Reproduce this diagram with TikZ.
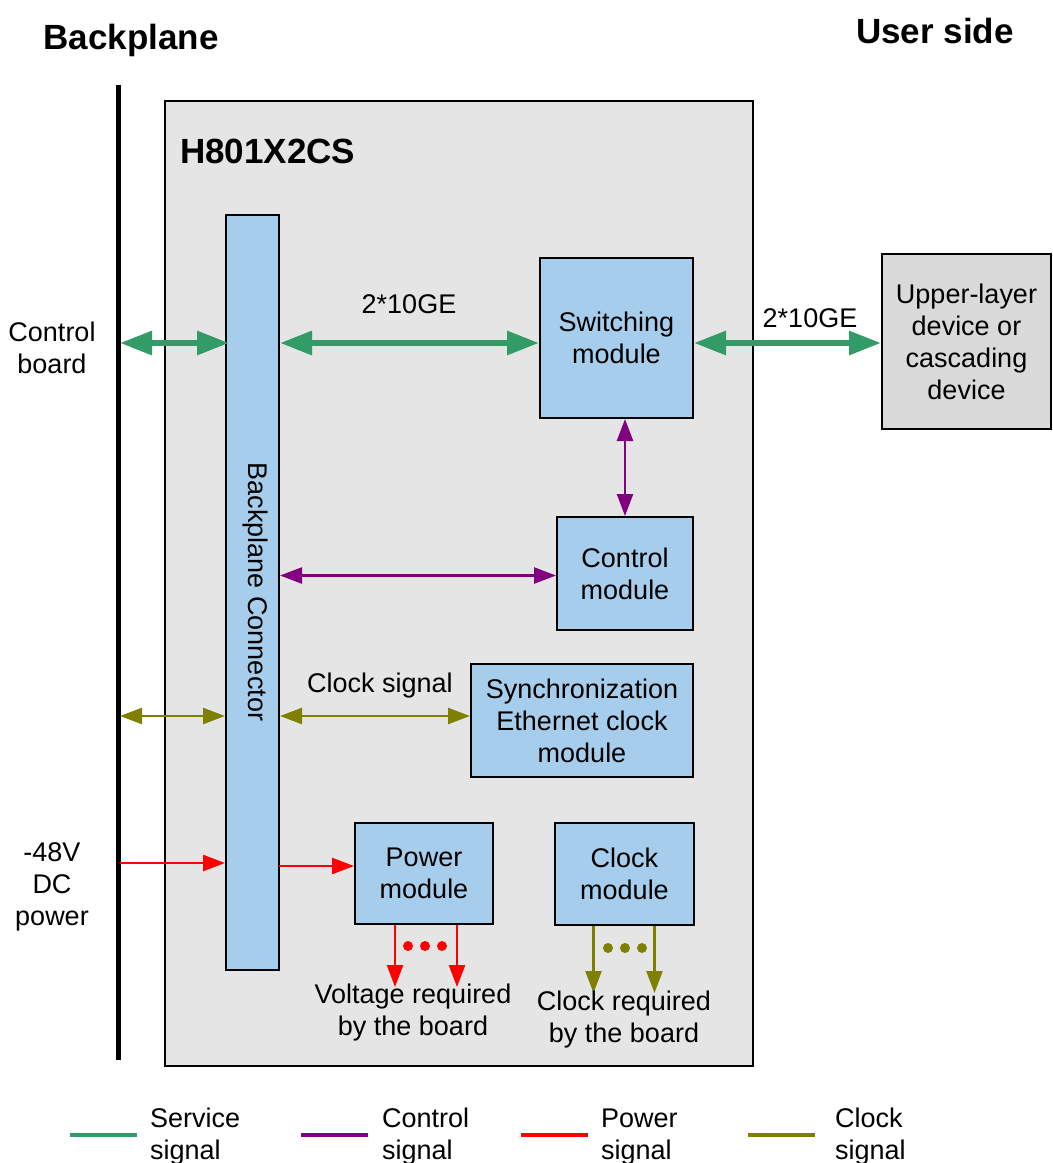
\documentclass[tikz,border=0pt]{standalone}
\usepackage{fontspec}
\setmainfont{Liberation Sans}
\usepackage{tikz}
\usetikzlibrary{arrows.meta}
\definecolor{servicegreen}{RGB}{51,155,104}
\definecolor{ctrlpurple}{RGB}{128,0,128}
\definecolor{pwrred}{RGB}{255,0,0}
\definecolor{clkolive}{RGB}{128,128,0}
\definecolor{modblue}{RGB}{166,206,236}
\definecolor{boardgray}{RGB}{229,229,229}
\definecolor{uppergray}{RGB}{218,218,218}
\tikzset{
  lbl/.style={font=\fontsize{27}{32}\selectfont, align=center, inner sep=0pt},
  title/.style={font=\fontsize{35}{42}\selectfont\bfseries, inner sep=0pt},
  module/.style={draw=black, line width=2pt, fill=modblue, lbl},
  bigtip/.style={>={Triangle[length=32pt,width=23pt]}},
  smalltip/.style={>={Triangle[length=22pt,width=16pt]}},
  service/.style={servicegreen, line width=6pt, bigtip},
  ctrlsig/.style={ctrlpurple, line width=2.5pt, smalltip},
  pwrsig/.style={pwrred, line width=2.5pt, smalltip},
  clksig/.style={clkolive, line width=2.5pt, smalltip},
}
\begin{document}
\begin{tikzpicture}[x=1pt,y=-1pt]
  \useasboundingbox (0,0) rectangle (1053,1163);

  % titles
  \node[title] (bptitle) at (131,40) {Backplane};
  \node[title] (usertitle) at (935,31) {User side};

  % backplane line
  \coordinate (bptop) at (118,85);
  \coordinate (bpbot) at (118,1060);
  \draw[line width=5pt] (bptop) -- (bpbot);

  % board and modules
  \node[draw=black, line width=1.5pt, fill=boardgray, minimum width=588pt, minimum height=965pt] (board) at (459,583.5) {};
  \node[title, anchor=west] (boardname) at (180,151) {H801X2CS};
  \node[module, minimum width=53pt, minimum height=755pt] (conn) at (252.5,592.5) {};
  \node[lbl, rotate=-90] (connname) at (255,592) {Backplane Connector};
  \node[module, minimum width=153pt, minimum height=160pt] (switch) at (616.5,338) {Switching\\module};
  \node[draw=black, line width=2pt, fill=uppergray, lbl, minimum width=169pt, minimum height=175pt] (upper) at (966.5,341.5) {Upper-layer\\device or\\cascading\\device};
  \node[module, minimum width=136pt, minimum height=113pt] (ctrl) at (625,573.5) {Control\\module};
  \node[module, minimum width=222pt, minimum height=113pt] (sync) at (582,720.5) {Synchronization\\Ethernet clock\\module};
  \node[module, minimum width=138pt, minimum height=101pt] (power) at (424,873.5) {Power\\module};
  \node[module, minimum width=139pt, minimum height=102pt] (clock) at (624.5,874) {Clock\\module};

  % side labels
  \node[lbl] (ctrlboard) at (52,348) {Control\\board};
  \node[lbl] (dcpower) at (52,887) {-48V\\DC\\power};

  % service signal
  \coordinate (svc) at (120,343);
  \draw[service, <->] (svc) -- ([xshift=4pt]svc -| conn.west);
  \draw[service, <->] (conn.east |- svc) -- (switch.west |- svc);
  \draw[service, <->] (switch.east |- svc) -- (upper.west |- svc);
  \node[lbl] (ge1) at (409,304) {2*10GE};
  \node[lbl] (ge2) at (810,318) {2*10GE};

  % control signal
  \draw[ctrlsig, <->] (ctrl.north |- switch.south) -- (ctrl.north);
  \draw[ctrlsig, <->] ([yshift=-2pt]ctrl.west -| conn.east) -- ([yshift=-2pt]ctrl.west);

  % clock signal
  \coordinate (clk) at (120,716);
  \draw[clksig, <->] (clk) -- (clk -| conn.west);
  \draw[clksig, <->] (conn.east |- clk) -- (sync.west |- clk);
  \node[lbl] (clklbl) at (380,686) {Clock signal};

  % power signal
  \coordinate (pwr) at (120,863);
  \coordinate (pwrin) at (279,866);
  \draw[pwrsig, ->] (pwr) -- (pwr -| conn.west);
  \draw[pwrsig, ->] (pwrin) -- (pwrin -| power.west);

  % outputs of power and clock modules
  \draw[pwrsig, ->] ([xshift=-29pt]power.south) -- ++(0,62);
  \draw[pwrsig, ->] ([xshift=33pt]power.south) -- ++(0,62);
  \foreach \dx in {-17,0,17} \fill[pwrred] (425+\dx,946) circle (5pt);
  \draw[clksig, ->] ([xshift=-31pt]clock.south) -- ++(0,67);
  \draw[clksig, ->] ([xshift=30pt]clock.south) -- ++(0,67);
  \foreach \dx in {-17,0,17} \fill[clkolive] (625+\dx,948) circle (5pt);
  \node[lbl] (voltout) at (413,1013) {Voltage required\\by the board};
  \node[lbl] (clkout) at (624,1020) {Clock required\\by the board};

  % legend
  \foreach \x/\clr/\tx/\lx in {70/servicegreen/Service/150, 301/ctrlpurple/Control/382,
      521/pwrred/Power/601, 748/clkolive/Clock/835}{
    \draw[\clr, line width=4pt] (\x,1135) -- ++(67,0);
    \node[lbl, anchor=west, align=left] at (\lx,1137) {\tx\\signal};
  }
\end{tikzpicture}
\end{document}
